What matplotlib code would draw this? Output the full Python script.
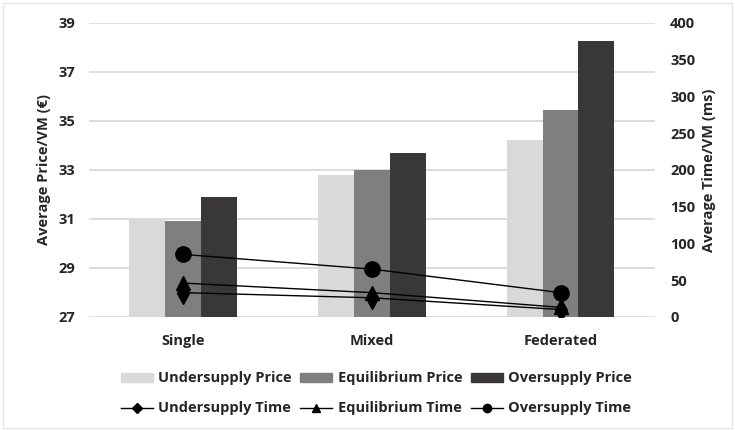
import numpy as np
import matplotlib.pyplot as plt
from matplotlib.lines import Line2D
from matplotlib.patches import Patch, Rectangle

plt.rcParams['font.family'] = ['Open Sans', 'DejaVu Sans']
plt.rcParams['font.weight'] = 'bold'

# data
categories = ['Single', 'Mixed', 'Federated']
under_price = [31.0, 32.8, 34.2]
equil_price = [30.9, 33.0, 35.45]
over_price = [31.9, 33.7, 38.25]

under_time = [33, 26, 10]
equil_time = [46, 33, 13]
over_time = [85, 65, 33]

light = '#D9D9D9'
mid = '#7F7F7F'
dark = '#393836'
grid_c = '#D9D9D9'
text_c = '#262626'

fig = plt.figure(figsize=(7.35, 4.3), dpi=100)
fig.patches.append(Rectangle((0.004, 0.004), 0.992, 0.99, transform=fig.transFigure,
                             fill=False, edgecolor='#E6E6E6', linewidth=1))
ax = fig.add_axes([0.121, 0.263, 0.770, 0.684])

x = np.arange(len(categories))
w = 0.19
ax.bar(x - w, under_price, w, color=light, zorder=2)
ax.bar(x, equil_price, w, color=mid, zorder=2)
ax.bar(x + w, over_price, w, color=dark, zorder=2)

ax.set_ylim(27, 39)
ax.set_yticks(np.arange(27, 40, 2))
ax.set_xlim(-0.5, 2.5)
ax.set_xticks(x)
ax.set_xticklabels(categories)
ax.yaxis.grid(True, color=grid_c, linewidth=1.3, zorder=0)
ax.set_axisbelow(True)
for s in ax.spines.values():
    s.set_visible(False)
ax.tick_params(length=0, labelsize=10.5, labelcolor=text_c)
ax.tick_params(axis='x', pad=12)
ax.tick_params(axis='y', pad=10)
ax.set_ylabel('Average Price/VM (€)', fontsize=10.5, color=text_c, fontweight='bold', labelpad=5)

ax2 = ax.twinx()
ax2.plot(x, under_time, color='black', lw=1, marker='d', ms=11, zorder=3)
ax2.plot(x, equil_time, color='black', lw=1, marker='^', ms=10, zorder=3)
ax2.plot(x, over_time, color='black', lw=1, marker='o', ms=11, zorder=3)
ax2.set_ylim(0, 400)
ax2.set_yticks(np.arange(0, 401, 50))
for s in ax2.spines.values():
    s.set_visible(False)
ax2.tick_params(length=0, labelsize=10.5, labelcolor=text_c, pad=11)
ax2.set_ylabel('Average Time/VM (ms)', fontsize=10.5, color=text_c, fontweight='bold', labelpad=5)

handles = [
    Patch(color=light), Line2D([], [], color='black', lw=1, marker='D', ms=5),
    Patch(color=mid), Line2D([], [], color='black', lw=1, marker='^', ms=6),
    Patch(color=dark), Line2D([], [], color='black', lw=1, marker='o', ms=6),
]
labels = ['Undersupply Price', 'Undersupply Time',
          'Equilibrium Price', 'Equilibrium Time',
          'Oversupply Price', 'Oversupply Time']
leg = fig.legend(handles, labels, ncol=3, loc='center', bbox_to_anchor=(0.512, 0.085),
                 frameon=False, fontsize=10.5, handlelength=2.2, handleheight=0.6,
                 handletextpad=0.35, columnspacing=0.6, labelspacing=1.1)
for t in leg.get_texts():
    t.set_color(text_c)

fig.savefig('out.png', dpi=100)
